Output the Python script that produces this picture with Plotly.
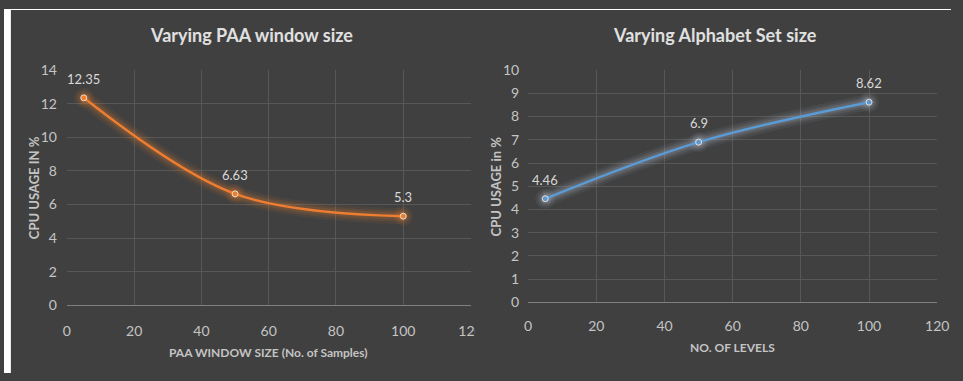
import plotly.graph_objects as go

W, H = 963, 381

# ---- data ----
paa_x = [5, 50, 100]
paa_y = [12.35, 6.63, 5.3]
paa_labels = ["12.35", "6.63", "5.3"]

alpha_x = [5, 50, 100]
alpha_y = [4.46, 6.9, 8.62]
alpha_labels = ["4.46", "6.9", "8.62"]

left_title = "Varying PAA window size"
right_title = "Varying Alphabet Set size"
left_xtitle = "PAA WINDOW SIZE (No. of Samples)"
right_xtitle = "NO. OF LEVELS"
left_ytitle = "CPU USAGE IN %"
right_ytitle = "CPU USAGE in %"

BG = "#404040"
GRID = "#575757"
AXLINE = "#7f7f7f"
TICK = "#c4c4c4"
TXT = "#d9d9d9"
ORANGE = "#ED7D31"
BLUE = "#5B9BD5"
FONT = "Lato, Open Sans, sans-serif"


def px(x):
    return x / W


def py(y):
    return 1 - y / H


fig = go.Figure()

# soft glow layers + line traces
for xs, ys, col, rgb, ax in [
    (paa_x, paa_y, ORANGE, "237,125,49", ("x", "y")),
    (alpha_x, alpha_y, BLUE, "190,200,215", ("x2", "y2")),
]:
    for w, a in [(16, 0.07), (11, 0.10), (7, 0.14)]:
        fig.add_trace(go.Scatter(x=xs, y=ys, mode="lines+markers", xaxis=ax[0], yaxis=ax[1],
                                 line=dict(color=f"rgba({rgb},{a})", width=w, shape="spline", smoothing=1),
                                 marker=dict(size=w + 4, color=f"rgba({rgb},{a})"),
                                 hoverinfo="skip", showlegend=False))
    fig.add_trace(go.Scatter(x=xs, y=ys, mode="lines+markers", xaxis=ax[0], yaxis=ax[1],
                             line=dict(color=col, width=2.5, shape="spline", smoothing=1),
                             marker=dict(size=6, color=col, line=dict(color="#f0dfd2", width=1)),
                             showlegend=False))

annotations = []
for xs, ys, labs, xr, yr in [(paa_x, paa_y, paa_labels, "x", "y"),
                             (alpha_x, alpha_y, alpha_labels, "x2", "y2")]:
    for xv, yv, t in zip(xs, ys, labs):
        annotations.append(dict(x=xv, y=yv, xref=xr, yref=yr, text=t, showarrow=False,
                                yshift=19, font=dict(family=FONT, size=13, color=TXT)))

# chart titles
for xc, t in [(252, left_title), (723, right_title)]:
    annotations.append(dict(x=px(xc), y=py(27), xref="paper", yref="paper", text=t,
                            showarrow=False, xanchor="center", yanchor="middle",
                            font=dict(family=FONT, size=18, color="#e0e0e0", weight="bold")))

# axis titles
xtitle_font = dict(family=FONT, size=12, color=TICK, weight="bold")
ytitle_font = dict(family=FONT, size=13, color=TICK, weight="bold")
for xc, yc, t in [(269, 360, left_xtitle), (741, 354, right_xtitle)]:
    annotations.append(dict(x=px(xc), y=py(yc), xref="paper", yref="paper", text=t,
                            showarrow=False, xanchor="center", yanchor="middle", font=xtitle_font))
for xc, yc, t in [(30, 187, left_ytitle), (500, 186, right_ytitle)]:
    annotations.append(dict(x=px(xc), y=py(yc), xref="paper", yref="paper", text=t, textangle=-90,
                            showarrow=False, xanchor="center", yanchor="middle", font=ytitle_font))

axis_common = dict(showgrid=True, gridcolor=GRID, gridwidth=1, zeroline=False,
                   tickfont=dict(family=FONT, size=14, color=TICK), ticks="")

fig.update_layout(
    width=W, height=H,
    margin=dict(l=0, r=0, t=0, b=0),
    paper_bgcolor=BG, plot_bgcolor=BG,
    xaxis=dict(domain=[px(64), px(474.4)], range=[0, 120], dtick=20, tick0=0, anchor="y",
               showline=True, linecolor=AXLINE, linewidth=1, ticklabelstandoff=13, **axis_common),
    yaxis=dict(domain=[py(310), py(64)], range=[0, 14], dtick=2, tick0=0, anchor="x",
               showline=False, ticklabelstandoff=9, **axis_common),
    xaxis2=dict(domain=[px(533), px(949)], range=[0, 120], dtick=20, tick0=0, anchor="y2",
                showline=True, linecolor=AXLINE, linewidth=1, ticklabelstandoff=11, **axis_common),
    yaxis2=dict(domain=[py(307), py(64)], range=[0, 10], dtick=1, tick0=0, anchor="x2",
                showline=False, ticklabelstandoff=8, **axis_common),
    annotations=annotations,
    shapes=[
        dict(type="rect", xref="paper", yref="paper", x0=0, x1=px(7), y0=0, y1=1,
             fillcolor="white", line_width=0, layer="above"),
        dict(type="rect", xref="paper", yref="paper", x0=0, x1=1, y0=py(1), y1=1,
             fillcolor="white", line_width=0, layer="above"),
        # right panel edge clipping the left chart's last tick label
        dict(type="rect", xref="paper", yref="paper", x0=px(479), x1=px(495), y0=py(348), y1=py(320),
             fillcolor=BG, line_width=0, layer="above"),
    ],
)

fig.write_html("out.html", config={"displayModeBar": False})
